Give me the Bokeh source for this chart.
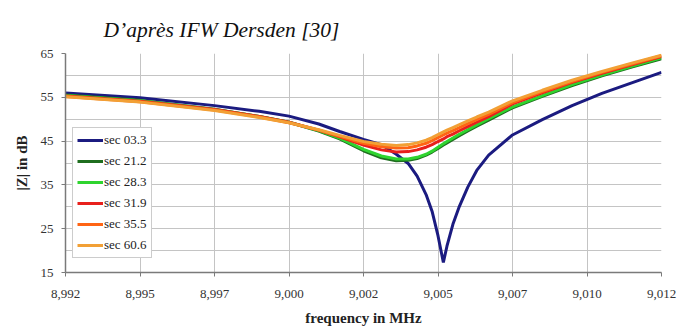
from bokeh.plotting import figure
from bokeh.models import FixedTicker, Legend, LegendItem, Title
from bokeh.embed import file_html
from bokeh.resources import INLINE

# ---------------- data ----------------
freq_mhz = [8.9920, 8.9945, 8.9970, 8.9985, 8.9995, 9.0005, 9.0012, 9.0020, 9.0026, 9.0031,
            9.0035, 9.0038, 9.0041, 9.0043, 9.0045, 9.00468, 9.0048, 9.0050, 9.0052, 9.0055,
            9.0058, 9.0062, 9.0070, 9.0080, 9.0090, 9.0100, 9.0110, 9.0120]

sec_03_3 = [56.0, 54.9, 53.1, 51.8, 50.7, 48.9, 47.2, 45.4, 44.2, 42.0,
            39.9, 37.0, 32.8, 29.0, 23.4, 17.3, 21.0, 26.0, 29.8, 34.5,
            38.3, 41.8, 46.4, 49.9, 53.1, 55.9, 58.3, 60.7]
sec_21_2 = [55.5, 54.3, 52.3, 50.6, 49.3, 47.3, 45.5, 42.8, 41.2, 40.5,
            40.6, 41.0, 41.8, 42.5, 43.3, 44.1, 44.6, 45.4, 46.2, 47.3,
            48.4, 49.8, 52.6, 55.2, 57.7, 59.9, 61.9, 63.8]
sec_28_3 = [55.4, 54.2, 52.2, 50.6, 49.3, 47.4, 45.7, 43.1, 41.6, 40.9,
            40.9, 41.3, 42.0, 42.7, 43.6, 44.4, 44.9, 45.7, 46.5, 47.6,
            48.7, 50.1, 52.8, 55.4, 57.9, 60.1, 62.1, 64.0]
sec_31_9 = [55.3, 54.1, 52.2, 50.6, 49.3, 47.5, 46.0, 44.1, 43.0, 42.5,
            42.6, 43.0, 43.6, 44.2, 44.9, 45.5, 46.0, 46.6, 47.3, 48.3,
            49.3, 50.6, 53.5, 56.0, 58.4, 60.5, 62.4, 64.3]
sec_35_5 = [55.2, 54.0, 52.1, 50.5, 49.2, 47.5, 46.1, 44.5, 43.7, 43.4,
            43.5, 43.9, 44.5, 45.1, 45.8, 46.4, 46.8, 47.4, 48.0, 49.0,
            49.9, 51.1, 53.8, 56.3, 58.6, 60.7, 62.6, 64.5]
sec_60_6 = [55.1, 53.9, 52.0, 50.4, 49.2, 47.6, 46.3, 44.9, 44.3, 44.0,
            44.2, 44.6, 45.2, 45.8, 46.5, 47.1, 47.5, 48.1, 48.7, 49.6,
            50.5, 51.6, 54.2, 56.6, 58.9, 60.9, 62.8, 64.6]

series_names = ["sec 03.3", "sec 21.2", "sec 28.3", "sec 31.9", "sec 35.5", "sec 60.6"]
series_values = [sec_03_3, sec_21_2, sec_28_3, sec_31_9, sec_35_5, sec_60_6]
series_colors = ["#1b1b80", "#1f6e1f", "#2fd42f", "#e8201c", "#ff6414", "#f2a035"]

x_ticks = [8.992, 8.9945, 8.997, 8.9995, 9.002, 9.0045, 9.007, 9.0095, 9.012]
x_tick_labels = ["8,992", "8,995", "8,997", "9,000", "9,002", "9,005", "9,007", "9,010", "9,012"]
y_ticks = [15, 25, 35, 45, 55, 65]
y_minor = [20, 30, 40, 50, 60]

SERIF = "'Liberation Serif'"

p = figure(width=683, height=332, output_backend="svg", toolbar_location=None,
           x_range=(8.992, 9.012), y_range=(15, 65),
           min_border_left=65, min_border_right=22, min_border_top=53, min_border_bottom=60)
p.outline_line_color = None
p.background_fill_color = "white"
p.border_fill_color = "white"

p.title = Title(text="D\u2019après IFW Dersden [30]", text_font=SERIF, text_font_size="21.5px",
                text_font_style="italic", text_color="#111111", align="left", offset=38,
                standoff=24)

lines = []
for name, vals, col in zip(series_names, series_values, series_colors):
    r = p.line(freq_mhz, vals, line_color=col, line_width=3)
    lines.append(LegendItem(label=name, renderers=[r]))

# axes
p.xaxis.ticker = FixedTicker(ticks=x_ticks)
p.xaxis.major_label_overrides = dict(zip(x_ticks, x_tick_labels))
p.yaxis.ticker = FixedTicker(ticks=y_ticks, minor_ticks=y_minor)
for ax in (p.xaxis, p.yaxis):
    ax.axis_line_color = "#7a7a7a"
    ax.axis_line_width = 1.5
    ax.major_tick_line_color = "#7a7a7a"
    ax.major_tick_out = 4
    ax.major_tick_in = 0
    ax.minor_tick_line_color = None
    ax.major_label_text_font = SERIF
    ax.major_label_text_font_size = "13px"
    ax.major_label_text_color = "#333333"
    ax.axis_label_text_font = SERIF
    ax.axis_label_text_font_style = "bold"
    ax.axis_label_text_font_size = "15px"
    ax.axis_label_text_color = "#222222"
p.xaxis.major_label_standoff = 13
p.yaxis.major_label_standoff = 8
p.xaxis.axis_label = "frequency in MHz"
p.yaxis.axis_label = "|Z| in dB"
p.xaxis.axis_label_standoff = 9
p.yaxis.axis_label_standoff = 8

p.xgrid.grid_line_color = "#c4c4c4"
p.ygrid.grid_line_color = "#c4c4c4"
p.ygrid.minor_grid_line_color = "#c4c4c4"
p.xgrid.grid_line_width = 1
p.ygrid.grid_line_width = 1

legend = Legend(items=lines, location=(7, 14))
legend.label_text_font = SERIF
legend.label_text_font_size = "13px"
legend.label_text_color = "#222222"
legend.glyph_width = 26
legend.glyph_height = 16
legend.label_height = 16
legend.label_standoff = 1
legend.spacing = 5
legend.padding = 4
legend.margin = 0
legend.border_line_color = "#9a9a9a"
legend.background_fill_color = "white"
legend.background_fill_alpha = 1.0
p.add_layout(legend)

open("out.html", "w").write(file_html(p, INLINE))
